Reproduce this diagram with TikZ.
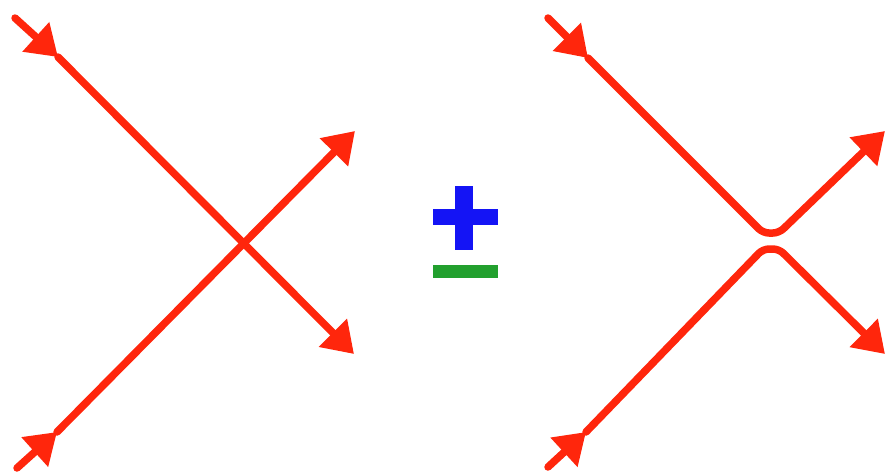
\documentclass[tikz,border=0pt]{standalone}
\usetikzlibrary{arrows.meta}
\definecolor{lred}{RGB}{255,38,12}
\definecolor{pblue}{RGB}{20,20,245}
\definecolor{mgreen}{RGB}{34,160,46}
\begin{document}
\begin{tikzpicture}[x=1pt,y=-1pt,
  wire/.style={draw=lred,line width=7.5pt,line cap=round,line join=round,
    -{Triangle[length=30pt,width=38pt,fill=lred]}}]
\useasboundingbox (0,0) rectangle (887,472);
% left crossing
\coordinate (a1) at (15,18);
\coordinate (a1m) at (58,57);
\coordinate (a1e) at (354,354);
\coordinate (a2) at (17,468);
\coordinate (a2m) at (57,432);
\coordinate (a2e) at (355,131);
\draw[wire] (a1m) -- (a1e);
\draw[wire] (a1) -- (a1m);
\draw[wire] (a2m) -- (a2e);
\draw[wire] (a2) -- (a2m);
% plus / minus
\fill[pblue] (433,209) rectangle (498,225);
\fill[pblue] (455,186) rectangle (473,250);
\fill[mgreen] (433,265) rectangle (498,278);
% right avoided crossing
\coordinate (b1) at (548,18);
\coordinate (b1m) at (588,58);
\coordinate (b1c) at (763,233);
\coordinate (b1d) at (779,233);
\coordinate (b1e) at (885,131);
\coordinate (b2) at (548,467);
\coordinate (b2m) at (586,432);
\coordinate (b2c) at (763,249);
\coordinate (b2d) at (779,249);
\coordinate (b2e) at (885,354);
\draw[wire,rounded corners=6pt] (b1m) -- (b1c) -- (b1d) -- (b1e);
\draw[wire] (b1) -- (b1m);
\draw[wire,rounded corners=6pt] (b2m) -- (b2c) -- (b2d) -- (b2e);
\draw[wire] (b2) -- (b2m);
\end{tikzpicture}
\end{document}
